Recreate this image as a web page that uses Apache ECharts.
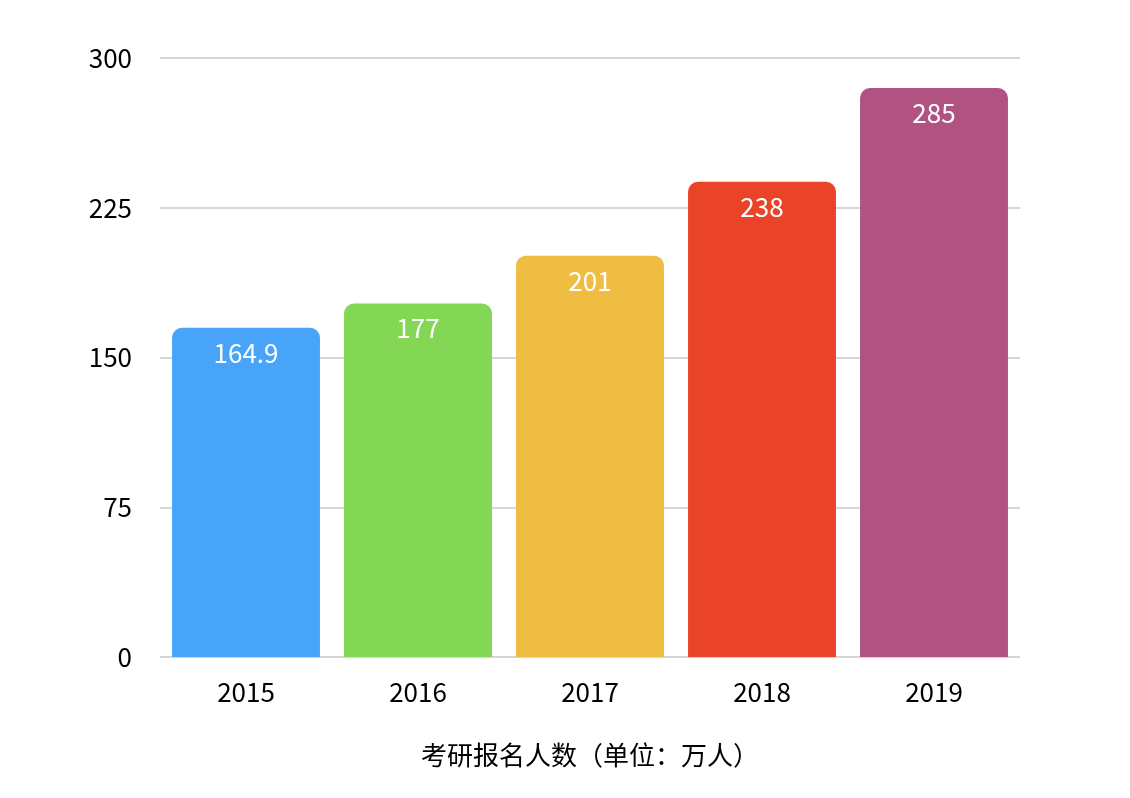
<!DOCTYPE html>
<html><head><meta charset="utf-8">
<script src="https://cdn.jsdelivr.net/npm/echarts@6/dist/echarts.min.js"></script>
<style>html,body{margin:0;background:#fff}#c{width:1130px;height:798px}</style>
</head><body><div id="c"></div>
<script>
const categories = ['2015','2016','2017','2018','2019'];
const values = [164.9, 177, 201, 238, 285];
const colors = ['#48A4F8','#84D655','#EEBD42','#E94428','#B05282'];
const yTicks = [0,75,150,225,300];
const chart = echarts.init(document.getElementById('c'));
chart.setOption({
  animation:false,
  grid:{left:160,right:110,top:58,bottom:141},
  xAxis:{type:'category',data:categories,
    axisLine:{show:false},axisTick:{show:false},
    axisLabel:{color:'#000',fontSize:26,margin:22,fontFamily:'Noto Sans CJK SC'},
    name:'考研报名人数（单位：万人）',nameLocation:'middle',nameGap:85,
    nameTextStyle:{color:'#000',fontSize:26,fontFamily:'Noto Sans CJK SC'}},
  yAxis:{type:'value',min:0,max:300,interval:75,
    axisLine:{show:false},axisTick:{show:false},
    axisLabel:{color:'#000',fontSize:26,margin:28,fontFamily:'Noto Sans CJK SC'},
    splitLine:{lineStyle:{color:'#c8c8c8',width:1.5}}},
  series:[{type:'bar',barCategoryGap:'14%',
    data:values.map((v,i)=>({value:v,itemStyle:{color:colors[i]}})),
    itemStyle:{borderRadius:[10,10,0,0]},
    label:{show:true,position:'insideTop',distance:12,color:'#fff',fontSize:26,fontFamily:'Noto Sans CJK SC'}}]
});
</script></body></html>
